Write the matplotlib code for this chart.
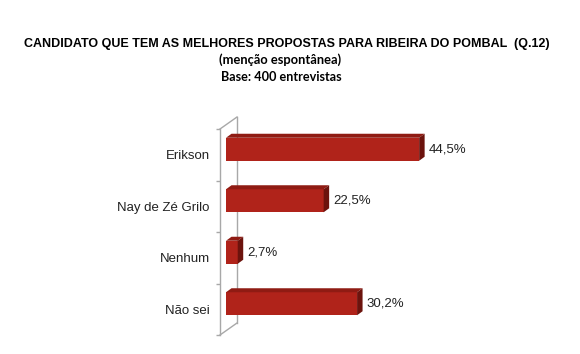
import matplotlib
matplotlib.use("Agg")
import matplotlib.pyplot as plt
from matplotlib.patches import Polygon
import numpy as np

plt.rcParams["font.family"] = ["Liberation Sans", "DejaVu Sans"]

categorias = ["Erikson", "Nay de Zé Grilo", "Nenhum", "Não sei"]
valores = [44.5, 22.5, 2.7, 30.2]
rotulos = ["44,5%", "22,5%", "2,7%", "30,2%"]

titulo = "CANDIDATO QUE TEM AS MELHORES PROPOSTAS PARA RIBEIRA DO POMBAL  (Q.12)"
subtitulo = "(menção espontânea)"
base = "Base: 400 entrevistas"

cor_frente = "#b0231a"
cor_topo = "#8f1b13"
cor_lado = "#6c130d"
cor_parede = "#a8a8a8"

W, H = 580, 354
fig = plt.figure(figsize=(W / 100, H / 100), dpi=100)

# axes: left at front wall (px 220), zero at px 226, 4.34 px per unit
px_unit = 4.34
ax_left, ax_right = 220, 520
ax_top, ax_bottom = 129, 335
ax = fig.add_axes([ax_left / W, 1 - ax_bottom / H, (ax_right - ax_left) / W, (ax_bottom - ax_top) / H])
xmin = (ax_left - 226) / px_unit
xmax = (ax_right - 226) / px_unit
ax.set_xlim(xmin, xmax)
ax.set_ylim(3.5, -0.5)
py_unit = (ax_bottom - ax_top) / 4.0

pos = np.arange(len(categorias))
altura = 23 / py_unit
desloc = -5.5 / py_unit
dx = 5.5 / px_unit
dy = -4 / py_unit

ax.barh(pos + desloc, valores, height=altura, color=cor_frente, zorder=3)
for y, v, r in zip(pos + desloc, valores, rotulos):
    y0, y1 = y - altura / 2, y + altura / 2
    ax.add_patch(Polygon([(0, y0), (v, y0), (v + dx, y0 + dy), (dx, y0 + dy)],
                         closed=True, color=cor_topo, zorder=3, lw=0))
    ax.add_patch(Polygon([(v, y0), (v + dx, y0 + dy), (v + dx, y1 + dy), (v, y1)],
                         closed=True, color=cor_lado, zorder=3, lw=0))
    ax.annotate(r, (v + dx, y), xytext=(3, 0), textcoords="offset points",
                va="center", ha="left", fontsize=9.5, color="#222222")

# side wall
wdx = 17 / px_unit
wdy = -12 / py_unit
kw = dict(color=cor_parede, lw=1, clip_on=False, zorder=2)
ax.plot([xmin + wdx, xmin + wdx], [-0.5 + wdy, 3.5 + wdy], **kw)
ax.plot([xmin, xmin + wdx], [-0.5, -0.5 + wdy], **kw)
ax.plot([xmin, xmin + wdx], [3.5, 3.5 + wdy], **kw)

for s in ["top", "right", "bottom"]:
    ax.spines[s].set_visible(False)
ax.spines["left"].set_color(cor_parede)
ax.spines["left"].set_linewidth(1)
ax.set_xticks([])
ax.set_yticks(pos)
ax.set_yticklabels(categorias, fontsize=9.5, color="#222222")
ax.set_yticks(np.arange(-0.5, 4, 1), minor=True)
ax.tick_params(axis="y", which="major", length=0, pad=7.5)
ax.tick_params(axis="y", which="minor", length=3, color=cor_parede, width=1)
ax.patch.set_alpha(0)

fig.text(287 / W, 1 - 44 / H, titulo, ha="center", va="center",
         fontsize=9, fontweight="bold")
fig.text(280 / W, 1 - 60 / H, subtitulo, ha="center", va="center",
         fontsize=9.3, fontweight="bold", family=["Lato", "DejaVu Sans"])
fig.text(281 / W, 1 - 77 / H, base, ha="center", va="center",
         fontsize=9.1, fontweight="bold", family=["Lato", "DejaVu Sans"])

fig.savefig("out.png", dpi=100)
